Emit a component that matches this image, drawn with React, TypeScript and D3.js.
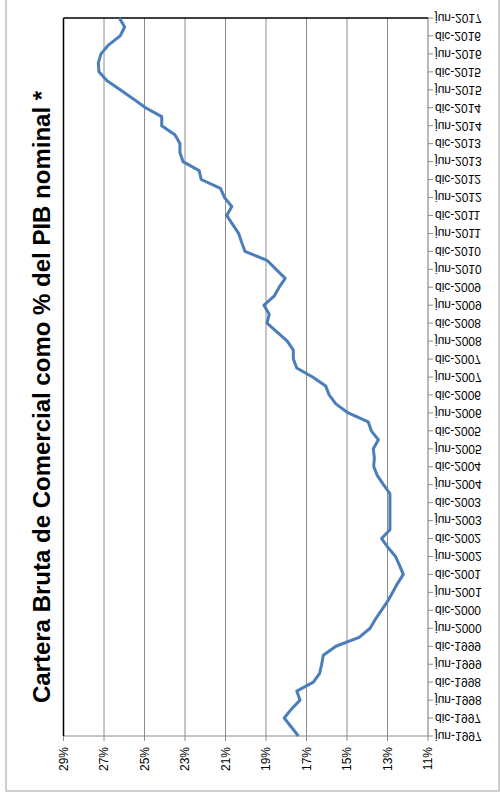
import React from "react";
import * as d3 from "d3";

const dates: string[] = [
  "1997-06","1997-09","1997-12","1998-03","1998-06","1998-09","1998-12","1999-03","1999-06","1999-09","1999-12",
  "2000-03","2000-06","2000-09","2000-12","2001-03","2001-06","2001-09","2001-12","2002-03","2002-06","2002-09","2002-12",
  "2003-03","2003-06","2003-09","2003-12","2004-03","2004-06","2004-09","2004-12","2005-03","2005-06","2005-09","2005-12",
  "2006-03","2006-06","2006-09","2006-12","2007-03","2007-06","2007-09","2007-12","2008-03","2008-06","2008-09","2008-12",
  "2009-03","2009-06","2009-09","2009-12","2010-03","2010-06","2010-09","2010-12","2011-03","2011-06","2011-09","2011-12",
  "2012-03","2012-06","2012-09","2012-12","2013-03","2013-06","2013-09","2013-12","2014-03","2014-06","2014-09","2014-12",
  "2015-03","2015-06","2015-09","2015-12","2016-03","2016-06","2016-09","2016-12","2017-03","2017-06",
];

const values: number[] = [
  17.4, 17.75, 18.1, 17.75, 17.32, 17.48, 16.66, 16.35, 16.25, 16.17, 15.55,
  14.4, 13.86, 13.6, 13.3, 13.0, 12.75, 12.5, 12.22, 12.4, 12.6, 12.98, 13.29,
  12.88, 12.88, 12.88, 12.88, 12.88, 13.2, 13.5, 13.68, 13.65, 13.7, 13.45, 13.8,
  13.95, 14.94, 15.55, 15.88, 16.05, 16.7, 17.48, 17.65, 17.65, 17.95, 18.45, 18.95,
  18.84, 19.1, 18.6, 18.35, 18.05, 18.5, 18.95, 20.04, 20.2, 20.35, 20.65, 20.94,
  20.69, 21.05, 21.25, 22.2, 22.3, 23.1, 23.25, 23.25, 23.5, 24.15, 24.15, 24.95,
  25.55, 26.2, 26.85, 27.25, 27.28, 27.15, 26.77, 26.2, 25.98, 26.24,
];

const dateTickLabels: string[] = [
  "jun-1997","dic-1997","jun-1998","dic-1998","jun-1999","dic-1999","jun-2000","dic-2000",
  "jun-2001","dic-2001","jun-2002","dic-2002","jun-2003","dic-2003","jun-2004","dic-2004",
  "jun-2005","dic-2005","jun-2006","dic-2006","jun-2007","dic-2007","jun-2008","dic-2008",
  "jun-2009","dic-2009","jun-2010","dic-2010","jun-2011","dic-2011","jun-2012","dic-2012",
  "jun-2013","dic-2013","jun-2014","dic-2014","jun-2015","dic-2015","jun-2016","dic-2016","jun-2017",
];

const pctTicks: number[] = [29, 27, 25, 23, 21, 19, 17, 15, 13, 11];

const title = "Cartera Bruta de Comercial como % del PIB nominal *";

const monthsMap: Record<string, string> = { jun: "06", dic: "12" };

const parse = d3.timeParse("%Y-%m");

export default function App() {
  const W = 500, H = 795;
  const left = 63.5, right = 428, top = 18, bottom = 736;
  const start = parse("1997-06")!;
  const end = parse("2017-06")!;
  const x = d3.scaleLinear().domain([29, 11]).range([left, right]);
  const y = d3.scaleTime().domain([start, end]).range([bottom, top]);

  const pts = dates.map((d, i) => ({ d: parse(d)!, v: values[i] }));
  const line = d3
    .line<{ d: Date; v: number }>()
    .x((p) => x(p.v))
    .y((p) => y(p.d));

  const font = "'Liberation Sans', Arial, sans-serif";

  return (
    <svg
      width={W}
      height={H}
      style={{ position: "absolute", left: 0, top: 0, background: "#fff" }}
    >
      <rect x={6} y={-5} width={493} height={796} fill="#fff" stroke="#bfbfbf" strokeWidth={1.5} />

      {/* gridlines */}
      {pctTicks
        .filter((t) => t !== 29 && t !== 11)
        .map((t) => (
          <line key={"g" + t} x1={x(t)} x2={x(t)} y1={top} y2={bottom} stroke="#8c8c8c" strokeWidth={1} />
        ))}

      {/* bottom axis (percent) */}
      <line x1={left} x2={right} y1={bottom} y2={bottom} stroke="#8c8c8c" strokeWidth={1.2} />
      {pctTicks.map((t) => (
        <line key={"pt" + t} x1={x(t)} x2={x(t)} y1={bottom} y2={bottom + 5} stroke="#8c8c8c" strokeWidth={1} />
      ))}
      {pctTicks.map((t) => (
        <text
          key={"pl" + t}
          transform={`translate(${x(t)},${bottom + 11}) rotate(-90)`}
          textAnchor="end"
          dy="0.35em"
          fontFamily={font}
          fontSize={12}
          fill="#000"
        >
          {t + "%"}
        </text>
      ))}

      {/* right axis (dates) */}
      <line x1={right} x2={right} y1={top} y2={bottom} stroke="#8c8c8c" strokeWidth={1.2} />
      {dateTickLabels.map((lab) => {
        const [m, yr] = lab.split("-");
        const dt = parse(`${yr}-${monthsMap[m]}`)!;
        const yy = y(dt);
        return (
          <g key={lab}>
            <line x1={right} x2={right + 5} y1={yy} y2={yy} stroke="#8c8c8c" strokeWidth={1} />
            <text
              transform={`translate(${right + 7},${yy}) scale(1,-1)`}
              dy="0.35em"
              fontFamily={font}
              fontSize={12}
              fill="#000"
            >
              {lab}
            </text>
          </g>
        );
      })}

      {/* plot border top & left */}
      <line x1={left} x2={right} y1={top} y2={top} stroke="#000" strokeWidth={1.5} />
      <line x1={left} x2={left} y1={top} y2={bottom} stroke="#000" strokeWidth={1.5} />

      {/* series */}
      <path d={line(pts) || ""} fill="none" stroke="#4a7ebb" strokeWidth={3} strokeLinejoin="round" />

      {/* title */}
      <text
        transform={`translate(50,397) rotate(-90)`}
        textAnchor="middle"
        fontFamily={font}
        fontWeight="bold"
        fontSize={24}
        fill="#000"
      >
        {title}
      </text>
    </svg>
  );
}
